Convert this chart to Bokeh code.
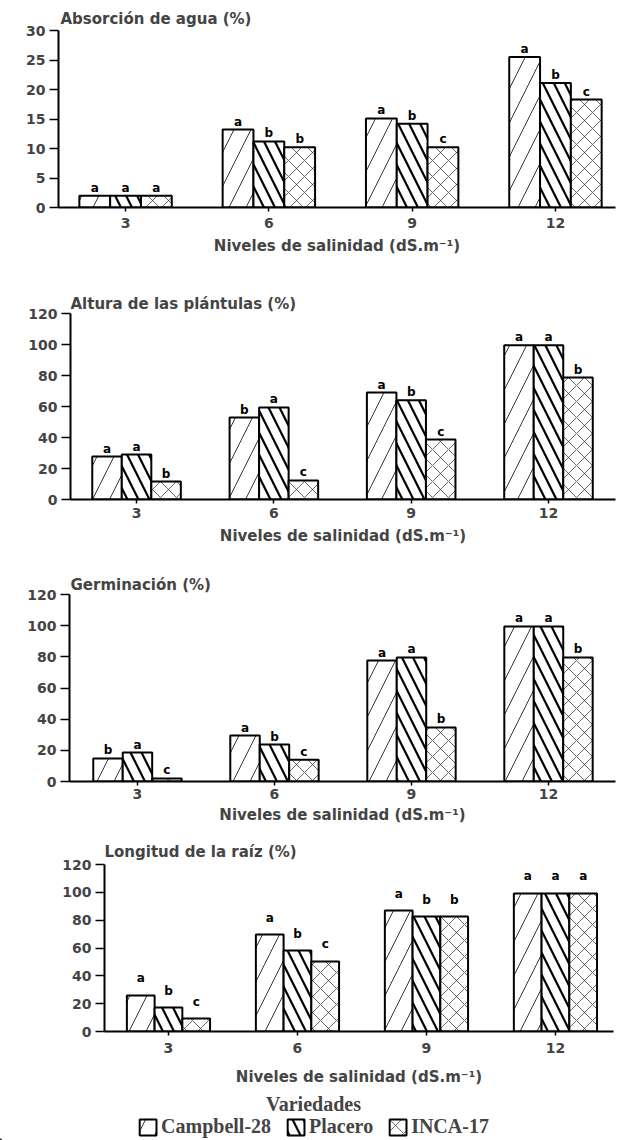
from bokeh.plotting import figure
from bokeh.models import FixedTicker, Range1d, ColumnDataSource, Label
from bokeh.core.properties import value
from bokeh.embed import file_html
from bokeh.resources import INLINE

# ---------------- data ----------------
levels = ["3", "6", "9", "12"]
varieties = ["Campbell-28", "Placero", "INCA-17"]
x_axis_title = "Niveles de salinidad (dS.m\u207b\u00b9)"
legend_title = "Variedades"

absorcion_title = "Absorción de agua (%)"
absorcion_campbell = [2.0, 13.2, 15.1, 25.5]
absorcion_placero = [2.0, 11.2, 14.2, 21.1]
absorcion_inca = [2.0, 10.2, 10.2, 18.3]
absorcion_let_campbell = ["a", "a", "a", "a"]
absorcion_let_placero = ["a", "b", "b", "b"]
absorcion_let_inca = ["a", "b", "c", "c"]

altura_title = "Altura de las plántulas (%)"
altura_campbell = [27.7, 52.9, 69.0, 99.5]
altura_placero = [29.0, 59.4, 64.0, 99.5]
altura_inca = [11.6, 12.3, 38.7, 78.7]
altura_let_campbell = ["a", "b", "a", "a"]
altura_let_placero = ["a", "a", "b", "a"]
altura_let_inca = ["b", "c", "c", "b"]

germ_title = "Germinación (%)"
germ_campbell = [14.8, 29.5, 77.6, 99.5]
germ_placero = [18.6, 23.7, 79.6, 99.5]
germ_inca = [2.0, 14.0, 34.7, 79.6]
germ_let_campbell = ["b", "a", "a", "a"]
germ_let_placero = ["a", "b", "a", "a"]
germ_let_inca = ["c", "c", "b", "b"]

raiz_title = "Longitud de la raíz (%)"
raiz_campbell = [25.9, 69.7, 86.9, 99.2]
raiz_placero = [17.2, 58.2, 82.6, 99.2]
raiz_inca = [9.3, 50.3, 82.6, 99.2]
raiz_let_campbell = ["a", "a", "a", "a"]
raiz_let_placero = ["b", "b", "b", "a"]
raiz_let_inca = ["c", "c", "b", "a"]

# ---------------- style ----------------
FONT = "DejaVu Sans"
BAR_W = 0.215
OFFSETS = [-BAR_W, 0.0, BAR_W]
HATCH = [
    dict(hatch_pattern="/", hatch_scale=34, hatch_weight=0.8),
    dict(hatch_pattern="\\", hatch_scale=22, hatch_weight=2.2),
    dict(hatch_pattern="x", hatch_scale=16, hatch_weight=0.6),
]


def panel(title, series, letters, ymax, ystep, left, frame_w, right, top, frame_h,
          bottom, xr, t_off, t_stand, tick_stand, lab_stand, let_off):
    p = figure(width=left + frame_w + right, height=top + frame_h + bottom,
               min_border_left=left, min_border_right=right,
               min_border_top=top, min_border_bottom=bottom,
               x_range=Range1d(*xr), y_range=Range1d(0, ymax),
               output_backend="svg", toolbar_location=None, title=title)
    p.title.text_font = FONT
    p.title.text_font_style = "bold"
    p.title.text_font_size = "15px"
    p.title.align = "left"
    p.title.offset = t_off
    p.title.standoff = t_stand
    p.outline_line_color = None
    p.xgrid.visible = False
    p.ygrid.visible = False

    for j, (vals, lets) in enumerate(zip(series, letters)):
        src = ColumnDataSource(dict(
            x=[i + 1 + OFFSETS[j] for i in range(len(levels))],
            top=vals, lab=lets))
        p.vbar(x="x", top="top", width=BAR_W, source=src, fill_color="white",
               line_color="black", line_width=2, hatch_color="black", **HATCH[j])
        p.text(x="x", y="top", text="lab", source=src, text_align="center",
               text_baseline="bottom", y_offset=let_off,
               text_font=value(FONT), text_font_style="bold",
               text_font_size="12px", text_color="black")

    ya = p.yaxis[0]
    ya.ticker = FixedTicker(ticks=list(range(0, ymax + 1, ystep)))
    ya.minor_tick_line_color = None
    ya.major_tick_out = 9
    ya.major_tick_in = 0
    ya.major_tick_line_width = 1.5
    ya.axis_line_width = 2
    ya.major_label_standoff = 4
    ya.major_label_text_font = FONT
    ya.major_label_text_font_style = "bold"
    ya.major_label_text_font_size = "14px"

    xa = p.xaxis[0]
    xa.ticker = FixedTicker(ticks=[i + 1 for i in range(len(levels))])
    xa.major_label_overrides = {i + 1: lv for i, lv in enumerate(levels)}
    xa.minor_tick_line_color = None
    xa.major_tick_out = 4
    xa.major_tick_in = 0
    xa.major_tick_line_width = 1.5
    xa.axis_line_width = 2
    xa.major_label_standoff = tick_stand
    xa.major_label_text_font = FONT
    xa.major_label_text_font_style = "bold"
    xa.major_label_text_font_size = "14px"
    xa.axis_label = x_axis_title
    xa.axis_label_standoff = lab_stand
    xa.axis_label_text_font = FONT
    xa.axis_label_text_font_style = "bold"
    xa.axis_label_text_font_size = "15px"
    return p


p1 = panel(absorcion_title, [absorcion_campbell, absorcion_placero, absorcion_inca],
           [absorcion_let_campbell, absorcion_let_placero, absorcion_let_inca],
           30, 5, 58, 557, 11, 30, 177, 50, (0.532, 4.419), 2, 6, 6, 6, -1)
p2 = panel(altura_title, [altura_campbell, altura_placero, altura_inca],
           [altura_let_campbell, altura_let_placero, altura_let_inca],
           120, 20, 70, 545, 11, 56, 186, 49, (0.519, 4.488), 0, 2, 4, 6, -1)
p3 = panel(germ_title, [germ_campbell, germ_placero, germ_inca],
           [germ_let_campbell, germ_let_placero, germ_let_inca],
           120, 20, 69, 546, 11, 46, 187, 47, (0.504, 4.489), 1, 2, 3, 4, -1)
p4 = panel(raiz_title, [raiz_campbell, raiz_placero, raiz_inca],
           [raiz_let_campbell, raiz_let_placero, raiz_let_inca],
           120, 20, 104, 509, 13, 36, 167, 59, (0.504, 4.450), 0, 8, 7, 12, -10)

# ---------------- legend ----------------
pl = figure(width=626, height=50, x_range=Range1d(0, 626), y_range=Range1d(0, 50),
            min_border=0, x_axis_type=None, y_axis_type=None,
            output_backend="svg", toolbar_location=None)
pl.outline_line_color = None
for j, name in enumerate(varieties):
    pl.vbar(x=[-100], top=[1], width=1, fill_color="white", line_color="black",
            line_width=2, hatch_color="black", legend_label=name, **HATCH[j])
leg = pl.legend[0]
leg.orientation = "horizontal"
leg.location = "bottom_center"
leg.border_line_color = None
leg.background_fill_alpha = 0
leg.padding = 0
leg.margin = 2
leg.spacing = 14
leg.label_standoff = 3
leg.glyph_width = 21
leg.glyph_height = 20
leg.label_height = 20
leg.label_text_font = "Liberation Serif"
leg.label_text_font_style = "bold"
leg.label_text_font_size = "20px"
pl.add_layout(Label(x=313, y=37, text=legend_title, text_align="center",
                    text_baseline="middle", text_font="Liberation Serif",
                    text_font_style="bold", text_font_size="20px"))

open("out.html", "w").write(file_html([p1, p2, p3, p4, pl], INLINE))
